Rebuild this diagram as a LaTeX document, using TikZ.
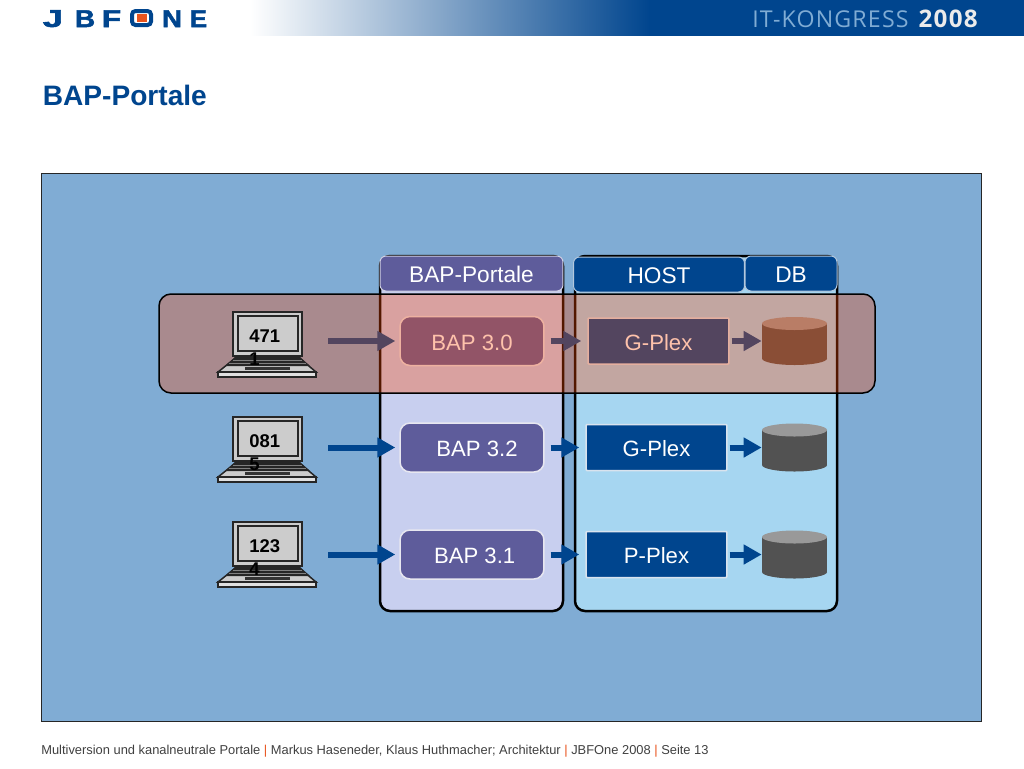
\documentclass[tikz,border=0pt]{standalone}
\usepackage{fontspec}
\setmainfont{Liberation Sans}
\newfontfamily\kongressfont[LetterSpace=5]{Open Sans}
\newfontfamily\logofont[FakeBold=2]{Liberation Sans Bold}
\usepackage{tikz}
\usetikzlibrary{arrows.meta}
\definecolor{jbblue}{RGB}{0,69,142}
\definecolor{panelblue}{RGB}{128,172,212}
\definecolor{lavender}{RGB}{200,207,239}
\definecolor{skyblue}{RGB}{166,214,241}
\definecolor{bapviolet}{RGB}{94,92,155}
\definecolor{bandred}{RGB}{253,70,0}
\definecolor{jborange}{RGB}{232,84,30}
\definecolor{footgray}{RGB}{64,64,64}
\tikzset{
  container/.style={draw=black,line width=.05cm,rounded corners=.2cm},
  header/.style={fill=#1,draw=white!70!#1,line width=.02cm,rounded corners=.12cm,text=white,text height=10pt,text depth=0pt,font=\fontsize{12.9}{15}\selectfont},
  bapbox/.style={fill=bapviolet,draw=white!85!bapviolet,line width=.03cm,rounded corners=.2cm,minimum width=2.88cm,minimum height=.98cm,inner sep=0pt,text=white,text height=10.4pt,text depth=0pt,font=\fontsize{12.6}{15}\selectfont},
  plexbox/.style={fill=jbblue,draw=white!85!jbblue,line width=.03cm,rounded corners=.02cm,minimum width=2.82cm,minimum height=.92cm,inner sep=0pt,text=white,text height=10.4pt,text depth=0pt,font=\fontsize{12.6}{15}\selectfont},
  dbslot/.style={minimum width=1.3cm,minimum height=.96cm,inner sep=0pt},
  flow/.style={draw=jbblue,line width=.12cm,-{Triangle[length=.36cm,width=.38cm]}},
  logoletter/.style={text=jbblue,inner sep=0pt,font=\logofont\fontsize{13.8}{15}\selectfont},
  pics/drum/.style={code={
    \fill[black!68] (0,17.5) ellipse [x radius=.65cm,y radius=.13cm];
    \fill[black!68] (-32.5,-17.5) rectangle (32.5,17.5);
    \fill[black!40] (0,-17.5) ellipse [x radius=.65cm,y radius=.13cm];
  }},
  pics/laptop/.style={code={
    \draw[fill=black!20,line width=.035cm,draw=black!85] (0,0) rectangle (69,44);
    \draw[fill=black!20,line width=.035cm,draw=black!85] (5,4) rectangle (65,39);
    \draw[fill=black!20,line width=.03cm,draw=black!85] (5,44) -- (64,44) -- (83,60) -- (-15,60) -- cycle;
    \fill[black!85] (2,45) -- (67,45) -- (77,54) -- (-8,54) -- cycle;
    \foreach \yy/\xa/\xb in {48/0/69,51/-4/73}
      \draw[black!50,line width=.02cm] (\xa,\yy) -- (\xb,\yy);
    \fill[black!80] (12,55) rectangle (57,57.5);
    \draw[fill=black!12,line width=.03cm,draw=black!85] (-15,60) rectangle (83,65);
    \node[anchor=north west,align=left,inner sep=0pt,font=\bfseries\fontsize{10.5}{13.3}\selectfont] (-t) at (16,17) {#1};
  }}
}
\begin{document}
\begin{tikzpicture}[x=.02cm,y=-.02cm]
\useasboundingbox (0,0) rectangle (1024,768);
% top banner
\shade[left color=white,right color=jbblue] (250,0) rectangle (650,35.5);
\fill[jbblue] (649,0) rectangle (1024,36);
\node[anchor=east,inner sep=0pt,text=panelblue] (kongress) at (909,19) {\kongressfont\fontsize{13.2}{15}\selectfont IT-KONGRESS};
\node[anchor=east,inner sep=0pt,text=black!8] (kongressyear) at (978,19) {\kongressfont\bfseries\fontsize{13.8}{15}\selectfont 2008};
% logo
\foreach \ch/\sc/\xx in {J/1.5/53,B/1.15/85,F/1.3/111.5,N/1.15/172,E/1.05/198.5}
  \node[logoletter] (logo\ch) at (\xx,18.7) {\scalebox{\sc}[1]{\ch}};
\draw[jbblue,line width=.08cm,rounded corners=.07cm,fill=white] (132,11) rectangle (151,25);
\node[fill=jborange,minimum width=.2cm,minimum height=.16cm,inner sep=0pt] (logoO) at (141.5,18) {};
% title
\node[anchor=west,inner sep=0pt,text=jbblue,font=\bfseries\fontsize{16}{19}\selectfont] (title) at (42.5,95) {BAP-Portale};
% main panel
\draw[fill=panelblue,draw=black!85,line width=.02cm] (41,173) rectangle (981,721);
\draw[container,fill=lavender] (380,256) rectangle (563,611);
\draw[container,fill=skyblue] (575,256) rectangle (837,611);
% column heads
\node[header=bapviolet,minimum width=3.66cm,minimum height=.7cm,inner sep=0pt] (headbap) at (471.5,273.5) {BAP-Portale};
\node[header=jbblue,minimum width=3.42cm,minimum height=.7cm,inner sep=0pt] (headhost) at (659,274.5) {HOST};
\node[header=jbblue,minimum width=1.84cm,minimum height=.7cm,inner sep=0pt] (headdb) at (791,273.5) {DB};
% rows
\node[bapbox] (bapA) at (472,341) {BAP 3.0};
\node[bapbox] (bapB) at (472,447.5) {\hspace{5.7pt}BAP 3.2};
\node[bapbox] (bapC) at (472,554.5) {\hspace{3pt}BAP 3.1};
\node[plexbox] (plexA) at (658.5,341) {G-Plex};
\node[plexbox] (plexB) at (656.5,447.5) {G-Plex};
\node[plexbox] (plexC) at (656.5,554.5) {P-Plex};
\node[dbslot] (dbA) at (794.5,341) {};
\node[dbslot] (dbB) at (794.5,447.5) {};
\node[dbslot] (dbC) at (794.5,554.5) {};
\pic at (dbA) {drum};
\pic at (dbB) {drum};
\pic at (dbC) {drum};
% the laptops sit over the band, their arrows under it
\coordinate (lapxA) at (328,341);
\coordinate (lapxB) at (328,447.5);
\coordinate (lapxC) at (328,554.5);
\foreach \row in {A,B,C}{
  \draw[flow,shorten >=.08cm] (lapx\row) -- (bap\row);
  \draw[flow,shorten <=.12cm,shorten >=.12cm] (bap\row) -- (plex\row);
  \draw[flow,shorten <=.04cm] (plex\row) -- (db\row);
}
% band
\draw[fill=bandred,fill opacity=.33,draw=black,line width=.03cm,rounded corners=.24cm] (159,294) rectangle (875,393);
\pic (lapA) at (233,312) {laptop={471\\1}};
\pic (lapB) at (233,417) {laptop={081\\5}};
\pic (lapC) at (233,522) {laptop={123\\4}};
% footer
\node[anchor=west,inner sep=0pt,text=footgray,font=\fontsize{7.33}{9}\selectfont] (footer) at (41,751.5) {Multiversion und kanalneutrale Portale \textcolor{jborange}{|} Markus Haseneder, Klaus Huthmacher; Architektur \textcolor{jborange}{|} JBFOne 2008 \textcolor{jborange}{|} Seite 13};
\end{tikzpicture}
\end{document}
